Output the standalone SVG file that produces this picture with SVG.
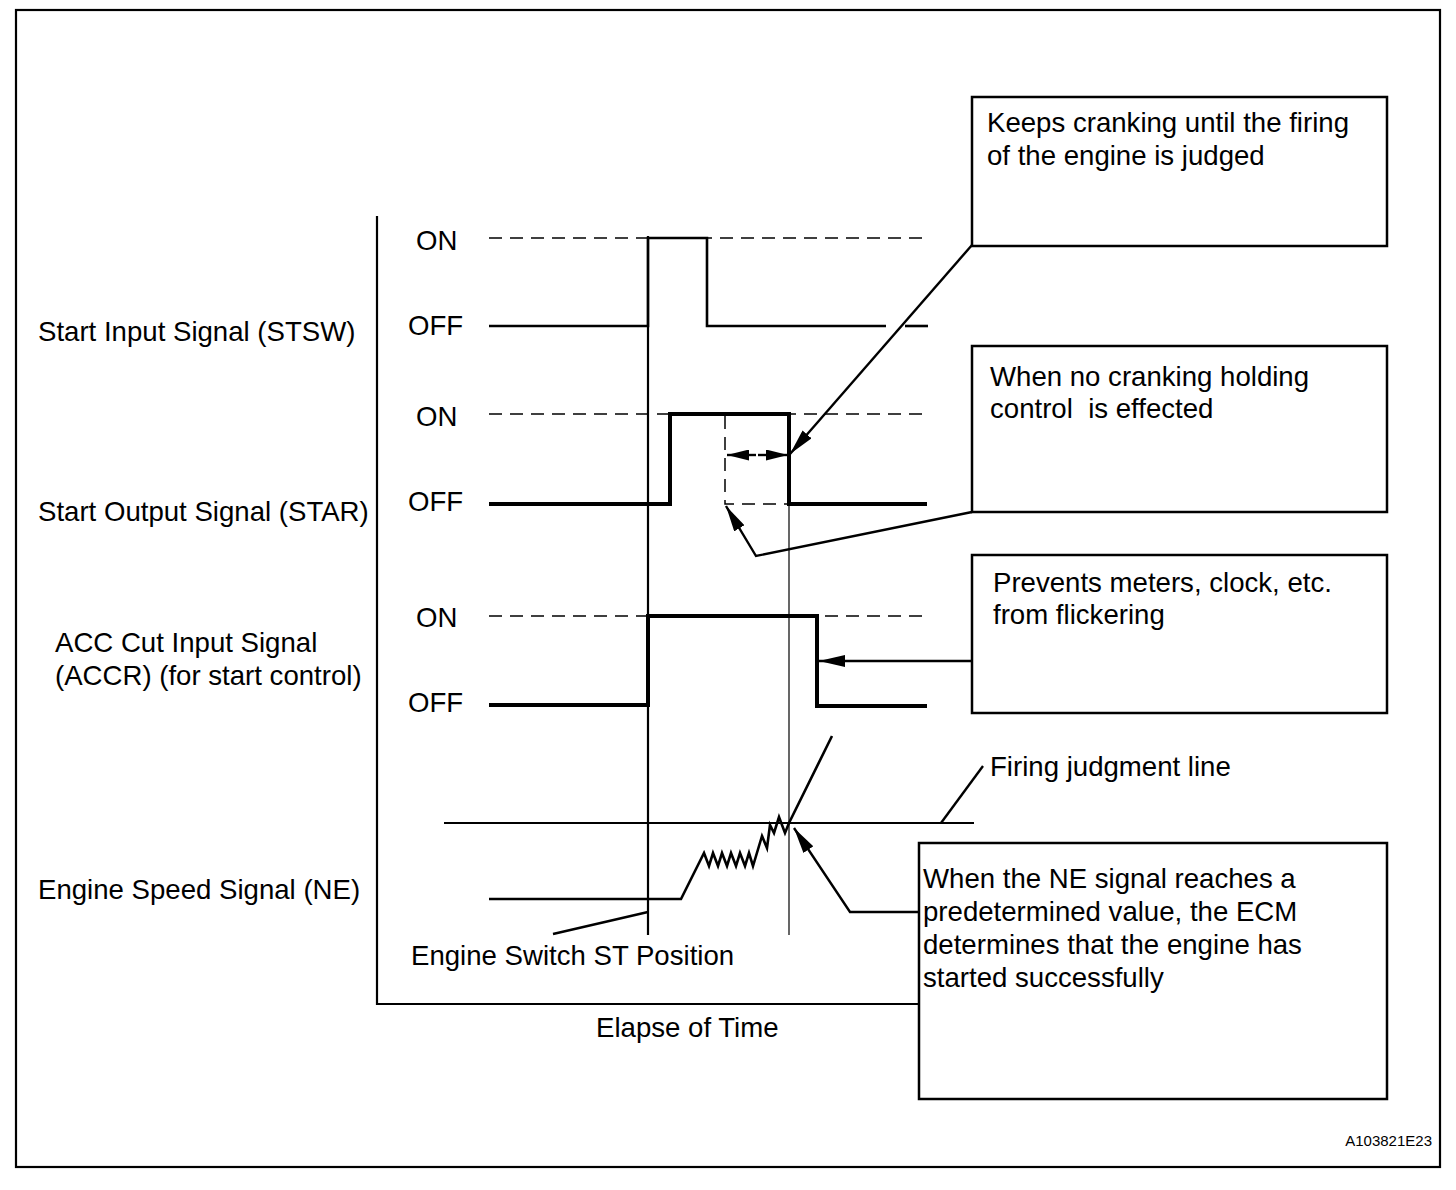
<svg xmlns="http://www.w3.org/2000/svg" width="1456" height="1190" viewBox="0 0 1456 1190">
<style>
text{font-family:"Liberation Sans",Arial,sans-serif;font-size:27.6px;fill:#000}
.box{fill:#fff;stroke:#000;stroke-width:2.5}
.ln{fill:none;stroke:#000;stroke-width:2.2}
.thin{fill:none;stroke:#000;stroke-width:1.2}
.dash{fill:none;stroke:#000;stroke-width:1.5;stroke-dasharray:13 8}
.sig1{fill:none;stroke:#000;stroke-width:2.6}
.sig2{fill:none;stroke:#000;stroke-width:4}
.ldr{fill:none;stroke:#000;stroke-width:2.4}
</style>
<defs>
<marker id="ah" viewBox="0 0 26 12" refX="26" refY="6" markerWidth="26" markerHeight="12" markerUnits="userSpaceOnUse" orient="auto">
<path d="M0,0 L26,6 L0,12 Z" fill="#000"/>
</marker>
<marker id="ahs" viewBox="0 0 22 11" refX="22" refY="5.5" markerWidth="22" markerHeight="11" markerUnits="userSpaceOnUse" orient="auto">
<path d="M0,0 L22,5.5 L0,11 Z" fill="#000"/>
</marker>
</defs>
<rect x="0" y="0" width="1456" height="1190" fill="#fff"/>
<rect x="16" y="10" width="1424" height="1157" fill="none" stroke="#000" stroke-width="2.2"/>

<g id="axes">
<path class="ln" d="M377,216 V1004 H919"/>
<text x="596" y="1037">Elapse of Time</text>
</g>

<g id="labels">
<text x="38" y="341">Start Input Signal (STSW)</text>
<text x="38" y="521">Start Output Signal (STAR)</text>
<text x="55" y="652">ACC Cut Input Signal</text>
<text x="55" y="685">(ACCR) (for start control)</text>
<text x="38" y="899">Engine Speed Signal (NE)</text>
<text x="416" y="250">ON</text>
<text x="408" y="335">OFF</text>
<text x="416" y="426">ON</text>
<text x="408" y="511">OFF</text>
<text x="416" y="627">ON</text>
<text x="408" y="712">OFF</text>
</g>

<g id="stsw">
<path class="dash" d="M489,238 H928"/>
<path class="sig1" d="M489,326 H648 V238 H707 V326 H886"/>
<path class="sig1" d="M905,326 H928"/>
</g>

<g id="star">
<path class="dash" d="M489,414 H928"/>
<path class="sig2" d="M489,504 H670 V414 H789 V504 H927"/>
<path class="dash" d="M725,416 V504 H789"/>
</g>

<g id="accr">
<path class="dash" d="M489,616 H928"/>
<path class="sig2" d="M489,705 H648 V616 H817 V706 H927"/>
</g>

<g id="ne">
<path class="ln" d="M444,823 H974"/>
<path class="sig1" d="M489,899 H681 L700,861 L704,853 L709,866 L713,853 L718,866 L722,853 L727,866 L731,853 L736,866 L740,853 L745,866 L749,853 L753,866 L762,836 L767,848 L770,825 L774,833 L779,817 L785,833 L789,823 L832,736"/>
</g>

<g id="markers">
<path class="ln" d="M648,236 V935"/>
<path class="thin" d="M789,504 V935"/>
</g>

<g id="connectors">
<path class="ldr" d="M756,455 H727" marker-end="url(#ahs)"/>
<path class="ldr" d="M758,455 H788" marker-end="url(#ahs)"/>
<path class="ldr" d="M972,245 L790,454" marker-end="url(#ah)"/>
<path class="ldr" d="M972,512 L756,556 L726,506" marker-end="url(#ah)"/>
<path class="ldr" d="M972,661 L819,661" marker-end="url(#ah)"/>
<path class="ldr" d="M920,912 L850,912 L794,828" marker-end="url(#ah)"/>
<path class="ldr" d="M941,823 L983,766"/>
<path class="ldr" d="M553,934 L648,912"/>
</g>

<g id="box-keeps">
<rect class="box" x="972" y="97" width="415" height="149"/>
<text x="987" y="132">Keeps cranking until the firing</text>
<text x="987" y="165">of the engine is judged</text>
</g>
<g id="box-nocrank">
<rect class="box" x="972" y="346" width="415" height="166"/>
<text x="990" y="386">When no cranking holding</text>
<text x="990" y="418" xml:space="preserve">control  is effected</text>
</g>
<g id="box-prevents">
<rect class="box" x="972" y="555" width="415" height="158"/>
<text x="993" y="592">Prevents meters, clock, etc.</text>
<text x="993" y="624">from flickering</text>
</g>
<g id="box-ne">
<rect class="box" x="919" y="843" width="468" height="256"/>
<text x="923" y="888">When the NE signal reaches a</text>
<text x="923" y="921">predetermined value, the ECM</text>
<text x="923" y="954">determines that the engine has</text>
<text x="923" y="987">started successfully</text>
</g>

<g id="free-text">
<text x="990" y="776">Firing judgment line</text>
<text x="411" y="965">Engine Switch ST Position</text>
<text x="1432" y="1146" text-anchor="end" style="font-size:15px">A103821E23</text>
</g>
</svg>
